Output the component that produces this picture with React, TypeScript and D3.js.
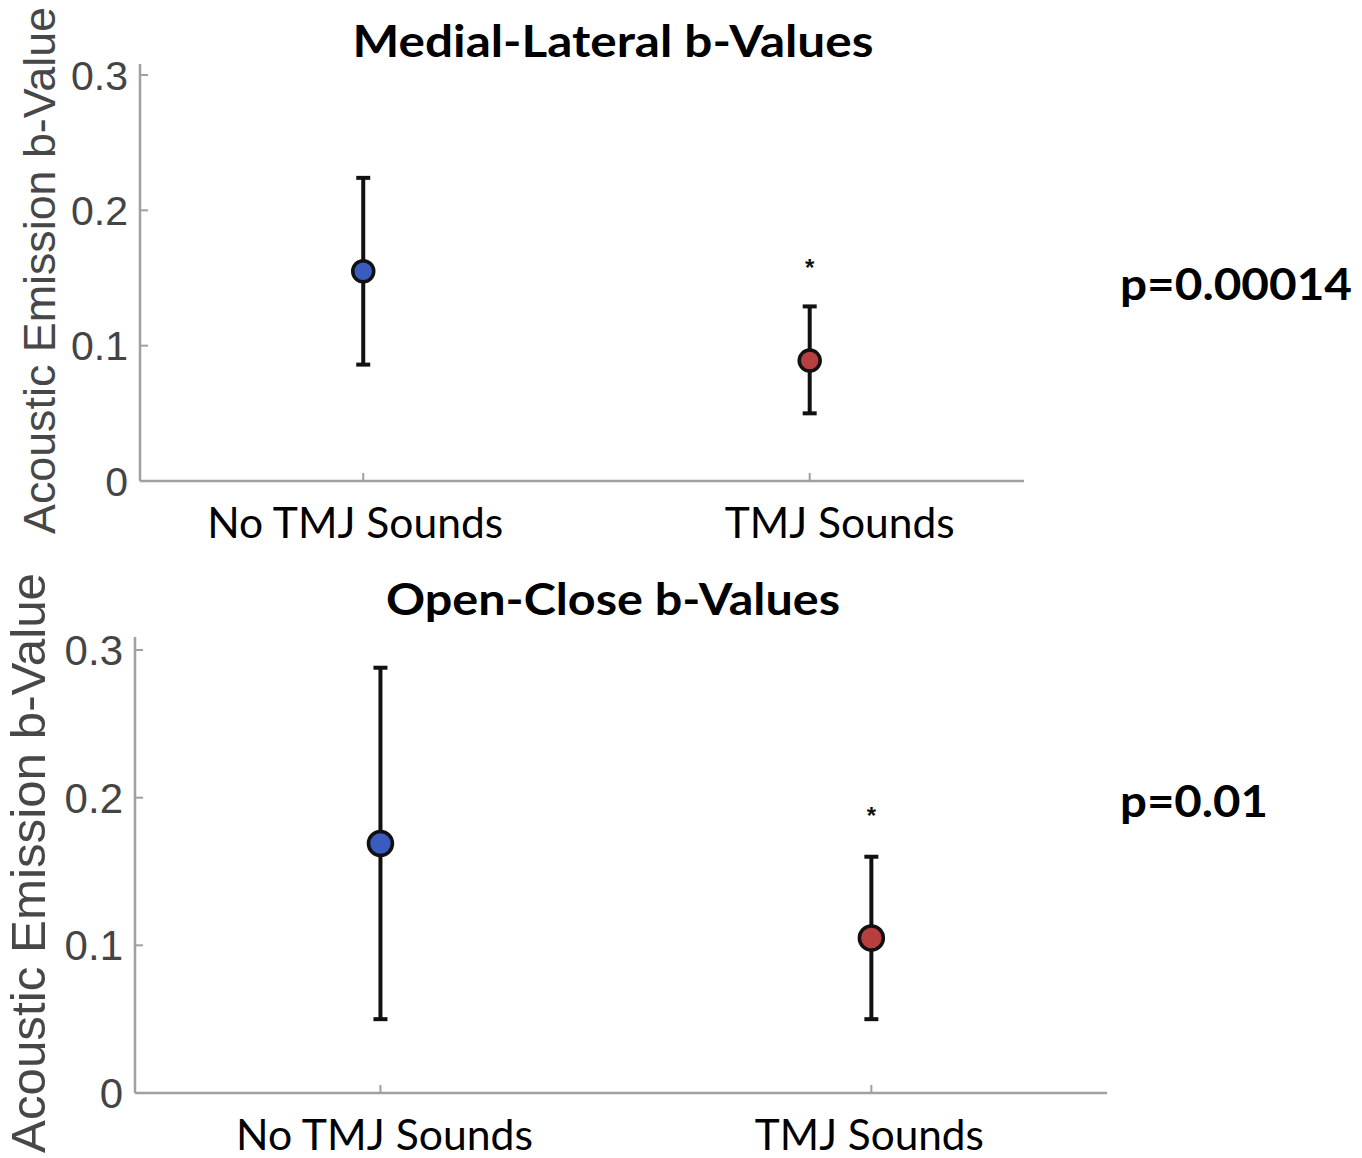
import React from "react";
import * as d3 from "d3";

const categories = ["No TMJ Sounds", "TMJ Sounds"];
const yTicks = [0, 0.1, 0.2, 0.3];

const mlMean = [0.155, 0.089];
const mlUpper = [0.224, 0.129];
const mlLower = [0.086, 0.05];
const mlStar = [null, 0.16];
const mlP = "p=0.00014";

const ocMean = [0.169, 0.105];
const ocUpper = [0.288, 0.16];
const ocLower = [0.05, 0.05];
const ocStar = [null, 0.19];
const ocP = "p=0.01";

const markerColors = ["#3a5cc0", "#b73f3f"];

type PanelProps = {
  title: string;
  mean: number[];
  upper: number[];
  lower: number[];
  star: (number | null)[];
  p: string;
  g: {
    left: number;
    right: number;
    y0: number;
    y3: number;
    axisTop: number;
    titleY: number;
    titleLen: number;
    titleX: number;
    yLabX: number;
    yLabLen: number;
    yLabSize: number;
    tickSize: number;
    xLabY: number;
    xLabLens: number[];
    xLabDx: number[];
    r: number;
    pY: number;
    pLen: number;
  };
};

function Panel({ title, mean, upper, lower, star, p, g }: PanelProps) {
  const x = d3.scaleLinear().domain([0.5, 2.48]).range([g.left, g.right]);
  const y = d3.scaleLinear().domain([0, 0.3]).range([g.y0, g.y3]);
  const axisColor = "#a0a0a0";
  const tickTextColor = "#444";
  const cap = 7;
  return (
    <g>
      <text
        x={g.titleX}
        y={g.titleY}
        textAnchor="middle"
        fontFamily="Lato"
        fontWeight="bold"
        fontSize={44}
        textLength={g.titleLen}
        lengthAdjust="spacingAndGlyphs"
        fill="#000"
      >
        {title}
      </text>
      <line x1={g.left} x2={g.left} y1={g.axisTop} y2={g.y0} stroke={axisColor} strokeWidth={2.5} />
      <line x1={g.left} x2={g.right} y1={g.y0} y2={g.y0} stroke={axisColor} strokeWidth={2.5} />
      {yTicks.map((t) => (
        <g key={t}>
          <line x1={g.left} x2={g.left + 8} y1={y(t)} y2={y(t)} stroke={axisColor} strokeWidth={2} />
          <text
            x={g.left - 12}
            y={y(t)}
            dy="0.36em"
            textAnchor="end"
            fontFamily="Liberation Sans"
            fontSize={g.tickSize}
            fill={tickTextColor}
          >
            {d3.format("")(t)}
          </text>
        </g>
      ))}
      {categories.map((c, i) => (
        <g key={c}>
          <line x1={x(i + 1)} x2={x(i + 1)} y1={g.y0} y2={g.y0 - 8} stroke={axisColor} strokeWidth={2} />
          <text
            x={x(i + 1) + g.xLabDx[i]}
            y={g.xLabY}
            textAnchor="middle"
            fontFamily="Lato"
            fontSize={42}
            textLength={g.xLabLens[i]}
            lengthAdjust="spacingAndGlyphs"
            fill="#000"
          >
            {c}
          </text>
        </g>
      ))}
      <text
        transform={`translate(${g.yLabX},${(g.axisTop + g.y0) / 2 - 2}) rotate(-90)`}
        textAnchor="middle"
        fontFamily="Liberation Sans"
        fontSize={g.yLabSize}
        textLength={g.yLabLen}
        lengthAdjust="spacingAndGlyphs"
        fill="#474747"
      >
        Acoustic Emission b-Value
      </text>
      {mean.map((m, i) => {
        const cx = x(i + 1);
        return (
          <g key={i}>
            <line x1={cx} x2={cx} y1={y(lower[i])} y2={y(upper[i])} stroke="#111" strokeWidth={4} />
            <line x1={cx - cap} x2={cx + cap} y1={y(lower[i])} y2={y(lower[i])} stroke="#111" strokeWidth={4} />
            <line x1={cx - cap} x2={cx + cap} y1={y(upper[i])} y2={y(upper[i])} stroke="#111" strokeWidth={4} />
            <circle cx={cx} cy={y(m)} r={g.r} fill={markerColors[i]} stroke="#111" strokeWidth={3.5} />
            {star[i] != null && (
              <text
                x={cx}
                y={y(star[i] as number)}
                dy="0.5em"
                textAnchor="middle"
                fontFamily="Liberation Sans"
                fontWeight="bold"
                fontSize={24}
                fill="#111"
              >
                *
              </text>
            )}
          </g>
        );
      })}
      <text
        x={1120}
        y={g.pY}
        fontFamily="Lato"
        fontWeight="bold"
        fontSize={44}
        textLength={g.pLen}
        lengthAdjust="spacingAndGlyphs"
        fill="#000"
      >
        {p}
      </text>
    </g>
  );
}

export default function App() {
  return (
    <svg width={1362} height={1158} style={{ position: "absolute", left: 0, top: 0, background: "#fff" }}>
      <rect width={1362} height={1158} fill="#fff" />
      <Panel
        title="Medial-Lateral b-Values"
        mean={mlMean}
        upper={mlUpper}
        lower={mlLower}
        star={mlStar}
        p={mlP}
        g={{
          left: 140,
          right: 1024,
          y0: 481,
          y3: 75,
          axisTop: 64,
          titleY: 57,
          titleLen: 521,
          titleX: 613,
          yLabX: 55,
          yLabLen: 527,
          yLabSize: 44,
          tickSize: 41,
          xLabY: 538,
          xLabLens: [296, 230],
          xLabDx: [-8, 30],
          r: 10.5,
          pY: 300,
          pLen: 232,
        }}
      />
      <Panel
        title="Open-Close b-Values"
        mean={ocMean}
        upper={ocUpper}
        lower={ocLower}
        star={ocStar}
        p={ocP}
        g={{
          left: 135,
          right: 1107,
          y0: 1093,
          y3: 650,
          axisTop: 637,
          titleY: 615,
          titleLen: 454,
          titleX: 613,
          yLabX: 45,
          yLabLen: 580,
          yLabSize: 48,
          tickSize: 42,
          xLabY: 1150,
          xLabLens: [297, 229],
          xLabDx: [4, -2],
          r: 12,
          pY: 817,
          pLen: 148,
        }}
      />
    </svg>
  );
}
